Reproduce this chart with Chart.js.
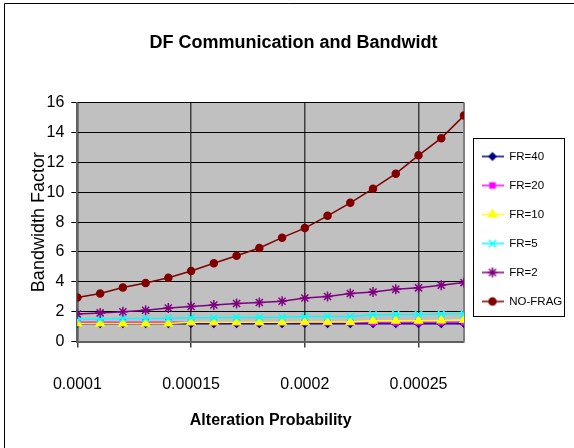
<!DOCTYPE html>
<html>
<head>
<meta charset="utf-8">
<script src="https://cdn.jsdelivr.net/npm/chart.js@4.4.0/dist/chart.umd.min.js"></script>
<style>
  html, body { margin: 0; padding: 0; background: #fff; }
</style>
</head>
<body>
<canvas id="chart" width="574" height="448"></canvas>
<script>
const probabilities = [0.0001, 0.00011, 0.00012, 0.00013, 0.00014, 0.00015, 0.00016, 0.00017, 0.00018,
  0.00019, 0.0002, 0.00021, 0.00022, 0.00023, 0.00024, 0.00025, 0.00026, 0.00027];
const fr40 = [1.2, 1.2, 1.2, 1.2, 1.2, 1.2, 1.2, 1.2, 1.2, 1.2, 1.2, 1.2, 1.2, 1.2, 1.2, 1.2, 1.2, 1.2];
const fr20 = [1.3, 1.3, 1.3, 1.3, 1.3, 1.28, 1.28, 1.28, 1.28, 1.28, 1.28, 1.28, 1.28, 1.28, 1.28, 1.3, 1.3, 1.3];
const fr10 = [1.22, 1.22, 1.22, 1.22, 1.22, 1.3, 1.3, 1.3, 1.3, 1.3, 1.32, 1.32, 1.32, 1.4, 1.4, 1.4, 1.42, 1.44];
const fr5 = [1.5, 1.52, 1.55, 1.55, 1.56, 1.6, 1.6, 1.61, 1.62, 1.63, 1.68, 1.68, 1.68, 1.8, 1.82, 1.82, 1.85, 1.86];
const fr2 = [1.85, 1.92, 2.0, 2.1, 2.25, 2.35, 2.45, 2.55, 2.62, 2.7, 2.92, 3.02, 3.22, 3.32, 3.5, 3.6, 3.78, 3.95];
const noFrag = [2.95, 3.22, 3.62, 3.93, 4.27, 4.73, 5.24, 5.75, 6.27, 6.96, 7.6, 8.42, 9.29, 10.24, 11.24, 12.47, 13.62, 15.13];
const xTicks = [0.0001, 0.00015, 0.0002, 0.00025];
const xTickLabels = ['0.0001', '0.00015', '0.0002', '0.00025'];

const font = "'Liberation Sans', Arial, sans-serif";

// line + marker swatch for the legend
function swatch(color, style, radius) {
  const c = document.createElement('canvas');
  c.width = 22; c.height = 14;
  const ctx = c.getContext('2d');
  ctx.strokeStyle = color;
  ctx.lineWidth = 1.5;
  ctx.beginPath(); ctx.moveTo(0, 7); ctx.lineTo(22, 7); ctx.stroke();
  ctx.fillStyle = color;
  Chart.helpers.drawPoint(ctx, { pointStyle: style, radius: radius, rotation: 0, borderWidth: 1.5 }, 11, 7);
  return c;
}

function series(label, values, color, style, radius, order) {
  return {
    label: label,
    data: values.map((v, i) => ({ x: probabilities[i], y: v })),
    borderColor: color,
    backgroundColor: color,
    borderWidth: 1.5,
    pointStyle: style,
    pointRadius: radius,
    pointBorderWidth: 1.5,
    order: order,
    legendImage: swatch(color, style, radius)
  };
}

const datasets = [
  series('FR=40', fr40, '#000080', 'rectRot', 3.5, 6),
  series('FR=20', fr20, '#ff00ff', 'rect', 3.5, 5),
  series('FR=10', fr10, '#ffff00', 'triangle', 4.5, 4),
  series('FR=5', fr5, '#00ffff', 'crossRot', 5, 3),
  series('FR=2', fr2, '#800080', 'star', 5, 2),
  series('NO-FRAG', noFrag, '#800000', 'circle', 3.5, 1)
];

const frame = {
  id: 'frame',
  beforeDraw(chart) {
    const { ctx, chartArea: a } = chart;
    ctx.save();
    ctx.fillStyle = '#c0c0c0';
    ctx.fillRect(a.left, a.top, a.width, a.height);
    ctx.restore();
  },
  beforeDatasetsDraw(chart) {
    const { ctx, chartArea: a } = chart;
    ctx.save();
    ctx.strokeStyle = '#808080';
    ctx.lineWidth = 2;
    ctx.beginPath();
    ctx.moveTo(a.right, a.top); ctx.lineTo(a.right, a.bottom);
    ctx.stroke();
    ctx.restore();
  },
  afterDraw(chart) {
    const ctx = chart.ctx;
    ctx.save();
    ctx.strokeStyle = '#000';
    ctx.lineWidth = 1;
    ctx.beginPath();
    ctx.moveTo(4.5, 448); ctx.lineTo(4.5, 3.5); ctx.lineTo(574, 3.5);
    ctx.stroke();
    const boxes = chart.legend.legendHitBoxes;
    if (boxes && boxes.length) {
      const left = Math.round(chart.chartArea.right) + 9;
      const top = Math.round(boxes[0].top - 13);
      const last = boxes[boxes.length - 1];
      const bottom = Math.round(last.top + 20);
      ctx.strokeRect(left + 0.5, top + 0.5, 91, bottom - top);
    }
    ctx.restore();
  }
};

new Chart(document.getElementById('chart'), {
  type: 'line',
  data: { datasets: datasets },
  plugins: [frame],
  options: {
    responsive: false,
    animation: false,
    layout: { padding: { left: 16, right: 3, top: 0, bottom: 14 } },
    plugins: {
      title: {
        display: true,
        text: 'DF Communication and Bandwidt',
        color: '#000',
        font: { family: font, size: 18, weight: 'bold' },
        padding: { top: 32, bottom: 49 }
      },
      legend: {
        position: 'right',
        maxWidth: 107,
        title: { display: true, text: '', font: { size: 10 }, padding: 6 },
        labels: {
          usePointStyle: true,
          pointStyleWidth: 22,
          color: '#000',
          font: { family: font, size: 11.5 },
          padding: 17.5,
          sort: (a, b) => a.datasetIndex - b.datasetIndex,
          generateLabels(chart) {
            const items = Chart.defaults.plugins.legend.labels.generateLabels(chart);
            items.forEach(item => {
              item.pointStyle = chart.data.datasets[item.datasetIndex].legendImage;
            });
            return items;
          }
        }
      },
      tooltip: { enabled: false }
    },
    scales: {
      x: {
        type: 'linear',
        min: 0.0001,
        max: 0.00027,
        afterBuildTicks(axis) {
          axis.ticks = xTicks.map(v => ({ value: v }));
        },
        ticks: {
          color: '#000',
          font: { family: font, size: 16 },
          padding: 27,
          maxRotation: 0,
          callback: (value, index) => xTickLabels[index]
        },
        grid: { color: '#404040', lineWidth: 1.5, tickLength: 6 },
        border: { color: '#606060', width: 2 },
        title: {
          display: true,
          text: 'Alteration Probability',
          color: '#000',
          font: { family: font, size: 16, weight: 'bold' },
          padding: { top: -10, bottom: 4 }
        }
      },
      y: {
        min: 0,
        max: 16,
        ticks: {
          stepSize: 2,
          color: '#000',
          font: { family: font, size: 16 },
          padding: 7
        },
        grid: { color: '#000', lineWidth: 1, tickLength: 6 },
        border: { color: '#606060', width: 2 },
        title: {
          display: true,
          text: 'Bandwidth Factor',
          color: '#000',
          font: { family: font, size: 18 },
          padding: { top: 12, bottom: -10 }
        }
      }
    }
  }
});
</script>
</body>
</html>
